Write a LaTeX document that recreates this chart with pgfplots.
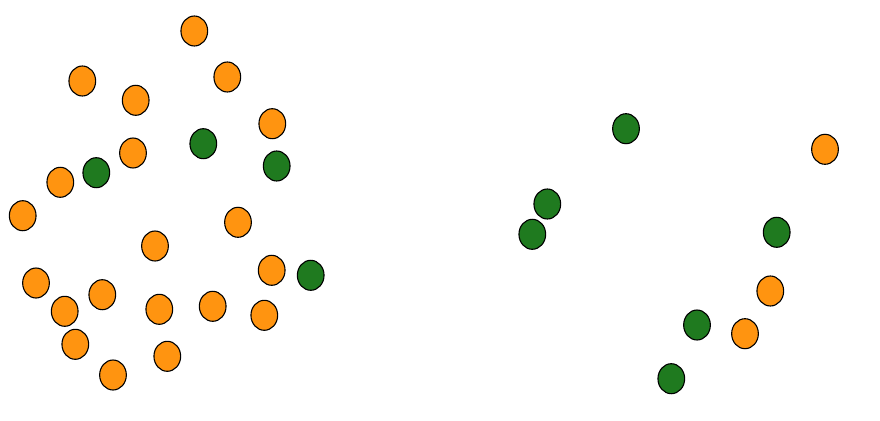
\documentclass[border=0pt]{standalone}
\usepackage{pgfplots}
\pgfplotsset{compat=1.18}
\definecolor{dotorange}{RGB}{255,148,16}
\definecolor{dotgreen}{RGB}{31,122,31}
\begin{document}
\begin{tikzpicture}
\begin{axis}[
  scale only axis, width=880pt, height=420pt,
  xmin=0, xmax=880, ymin=0, ymax=420, y dir=reverse,
  axis line style={draw=none}, ticks=none, clip=false,
]
\addplot[only marks, mark=*, mark size=15pt,
  mark options={xscale=0.89, fill=dotorange, draw=black, line width=1.1pt}]
coordinates {
(194.3,31) (82.3,81) (227.3,77) (135.7,100.3) (272.3,123.7) (133,153)
(60.3,182.3) (22.7,215.7) (238,222.3) (155,246) (271.7,270.3) (36,283)
(102.3,294.7) (64.7,311.3) (159.3,309.3) (212.7,306.3) (264.3,315.3)
(75.3,344.3) (167.3,356.3) (113,375)
(825,149.3) (770.3,291) (745,333.7)
};
\addplot[only marks, mark=*, mark size=15pt,
  mark options={xscale=0.89, fill=dotgreen, draw=black, line width=1.1pt}]
coordinates {
(96.3,172.7) (203.3,143.7) (276.7,166) (310.7,275.3)
(626,128.7) (547.3,204) (532.3,234.3) (776.7,232.3) (697,325) (671.3,378.7)
};
\end{axis}
\end{tikzpicture}
\end{document}
